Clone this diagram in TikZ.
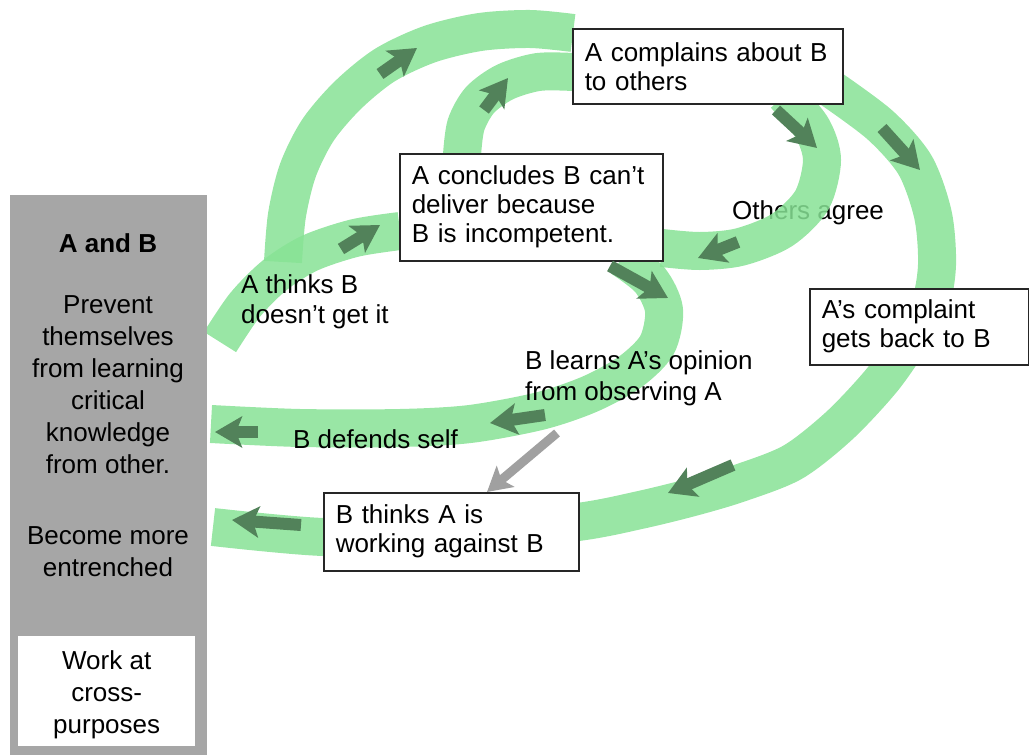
\documentclass[tikz,border=0pt]{standalone}
\usepackage{fontspec}
\setmainfont{Liberation Sans}
\usetikzlibrary{arrows.meta}
\definecolor{bandc}{RGB}{135,226,149}
\definecolor{darr}{RGB}{82,130,90}
\definecolor{grpc}{RGB}{166,166,166}
\definecolor{garr}{RGB}{160,160,160}
\pgfdeclarelayer{back}
\pgfdeclarelayer{bands}
\pgfsetlayers{back,bands,main}
\begin{document}
\begin{tikzpicture}[x=1pt,y=-1pt,
  lbl/.style={font=\fontsize{26}{30}\selectfont, inner sep=0pt, align=left, anchor=north west},
  ctr/.style={font=\fontsize{26}{32}\selectfont, inner sep=0pt, align=center, anchor=north},
  box/.style={draw=black!85, line width=1.5pt, fill=white, font=\fontsize{26}{29}\selectfont,
    align=left, inner xsep=12pt, inner ysep=0pt, anchor=north west},
  bandln/.style={line width=38pt, draw=bandc, opacity=0.85, line cap=butt},
  darrow/.style={line width=12pt, draw=darr, -{Stealth[length=27pt,width=31pt,inset=6pt]}},
  garrow/.style={line width=9pt, draw=garr, -{Stealth[length=24pt,width=27pt,inset=5pt]}}
]
\useasboundingbox (0,0) rectangle (1029,755);

% left panel
\node[fill=grpc, minimum width=197pt, minimum height=560pt, inner sep=0pt, anchor=north west] (grp) at (10,195) {};
\node[fill=white, minimum width=177pt, minimum height=110pt, inner sep=0pt, anchor=north west] (wbox) at (18,636) {};
\node[ctr, font=\fontsize{26}{32}\selectfont\bfseries] (ab) at (108,233) {A and B};
\node[ctr] (prev) at (108,295) {Prevent\\themselves\\from learning\\critical\\knowledge\\from other.};
\node[ctr] (becm) at (108,526) {Become more\\entrenched};
\node[ctr] (work) at (wbox.north |- 0,650) {Work at\\cross-\\purposes};

% text under the loop band
\begin{pgfonlayer}{back}
\node[lbl] (agree) at (732,200) {Others agree};
\end{pgfonlayer}

% boxes
\node[box, text width=246pt, minimum height=75pt] (comp) at (572,28) {A complains about B\\to others};
\node[box, text width=239pt, minimum height=107pt] (conc) at (399,153) {A concludes B can’t\\deliver because\\B is incompetent.};
\node[box, text width=195pt, minimum height=76pt] (back) at (809,288) {A’s complaint\\gets back to B};
\node[box, text width=231pt, minimum height=78pt] (think) at (323,492) {B thinks A is\\working against B};

% plain labels
\node[lbl] (athinks) at (241,274) {A thinks B\\doesn’t get it};
\node[lbl, font=\fontsize{26}{31}\selectfont] (learns) at (525,350) {B learns A’s opinion\\from observing A};
\node[lbl] (defends) at (293,429) {B defends self};

% bands
\begin{pgfonlayer}{bands}
\draw[bandln] plot[smooth] coordinates {(220,342) (245,305) (275,275) (310,253) (355,238) (400,231)};
\draw[bandln] plot[smooth] coordinates {(283,262) (287,215) (298,170) (318,130) (348,95) (385,65) (430,44) (480,32) (530,29) (573,33)};
\draw[bandln] plot[smooth] coordinates {(462,155) (466,125) (480,100) (505,82) (538,72) (573,72)};
\draw[bandln] plot[smooth] coordinates {(785,95) (812,128) (822,160) (812,200) (782,230) (740,247) (700,251) (662,248)};
\draw[bandln] plot[smooth] coordinates {(830,88) (880,125) (915,165) (933,215) (937,265) (930,305) (910,340) (882,380) (840,425) (793,462) (740,483) (693,497) (640,510) (578,522) (450,536) (323,537) (213,527)};
\draw[bandln] plot[smooth] coordinates {(622,258) (650,280) (664,310) (657,345) (630,372) (590,394) (540,411) (470,424) (400,428) (300,428) (211,424)};
\end{pgfonlayer}

% dark arrows
\draw[darrow] (380,74) -- (417,48);
\draw[darrow] (484,110) -- (508,78);
\draw[darrow] (341,249) -- (380,225);
\draw[darrow] (776,110) -- (817,148);
\draw[darrow] (882,128) -- (920,170);
\draw[darrow] (738,242) -- (698,258);
\draw[darrow] (610,266) -- (668,298);
\draw[darrow] (545,415) -- (490,423);
\draw[darrow] (258,432) -- (215,432);
\draw[darrow] (301,525) -- (232,520);
\draw[darrow] (733,465) -- (668,493);

% grey arrow
\draw[garrow] (557,433) -- (think.north east -| 487,0);
\end{tikzpicture}
\end{document}
